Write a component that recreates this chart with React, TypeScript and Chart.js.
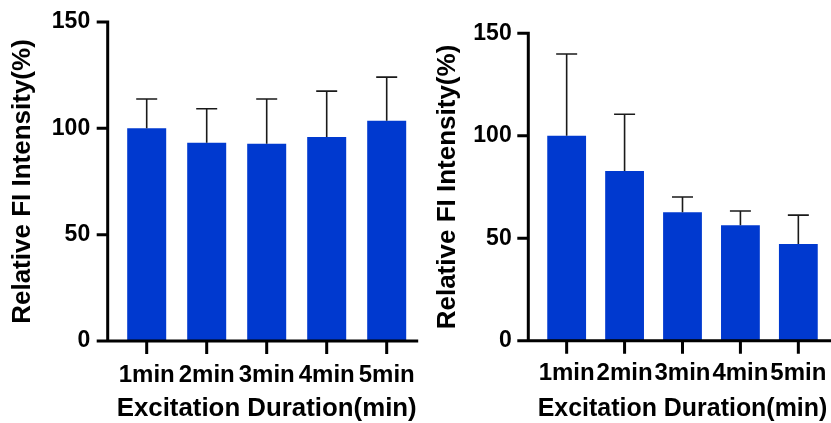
import React, { useEffect, useRef } from "react";
import { Chart, registerables } from "chart.js";

Chart.register(...registerables);

const categories = ["1min", "2min", "3min", "4min", "5min"];
const leftMeans = [100, 93.2, 92.8, 95.9, 103.6];
const leftErrors = [13.8, 16.0, 21.0, 21.6, 20.5];
const rightMeans = [100, 82.8, 62.7, 56.3, 47.2];
const rightErrors = [39.9, 27.7, 7.4, 7.0, 14.1];
const yTicks = [0, 50, 100, 150];
const xTitle = "Excitation Duration(min)";
const yTitle = "Relative FI Intensity(%)";

const FONT = "'Liberation Sans', Arial, Helvetica, sans-serif";
const BAR_COLOR = "#0039CF";

const axesPlugin = {
  id: "gpAxes",
  afterDatasetsDraw(chart: any, _args: any, opts: any) {
    const { ctx, chartArea, scales } = chart;
    const xs = scales.x;
    const ys = scales.y;
    const errs: number[] = opts.errors || [];
    const values: number[] = chart.data.datasets[0].data;
    const meta = chart.getDatasetMeta(0);
    ctx.save();
    // error bars (upper only)
    ctx.strokeStyle = "#1a1a1a";
    ctx.lineWidth = 1.6;
    ctx.lineCap = "butt";
    meta.data.forEach((bar: any, i: number) => {
      const v = values[i];
      const yBase = ys.getPixelForValue(v);
      const yTop = ys.getPixelForValue(v + errs[i]);
      ctx.beginPath();
      ctx.moveTo(bar.x, yBase);
      ctx.lineTo(bar.x, yTop);
      ctx.moveTo(bar.x - opts.capHalf, yTop);
      ctx.lineTo(bar.x + opts.capHalf, yTop);
      ctx.stroke();
    });
    // axes
    const ax = chartArea.left - opts.gap;
    const y0 = ys.getPixelForValue(0);
    const yMax = ys.getPixelForValue(yTicks[yTicks.length - 1]);
    ctx.strokeStyle = "#000";
    ctx.lineWidth = 3;
    ctx.beginPath();
    ctx.moveTo(ax, yMax - 1.5);
    ctx.lineTo(ax, y0);
    ctx.moveTo(ax - opts.tickLen, y0);
    ctx.lineTo(chartArea.right + opts.extend, y0);
    yTicks.forEach((t) => {
      const p = ys.getPixelForValue(t);
      ctx.moveTo(ax - opts.tickLen, p);
      ctx.lineTo(ax, p);
    });
    xs.ticks.forEach((_t: any, i: number) => {
      const p = xs.getPixelForTick(i);
      ctx.moveTo(p, y0);
      ctx.lineTo(p, y0 + 13);
    });
    ctx.stroke();
    ctx.restore();
  },
};

function makeConfig(means: number[], errors: number[], p: any): any {
  return {
    type: "bar",
    data: {
      labels: categories,
      datasets: [
        {
          data: means,
          backgroundColor: BAR_COLOR,
          borderWidth: 0,
          barPercentage: p.barPct,
          categoryPercentage: 1,
        },
      ],
    },
    options: {
      responsive: false,
      animation: false,
      layout: { padding: { top: p.top, right: p.right, left: 0, bottom: 0 } },
      plugins: {
        legend: { display: false },
        tooltip: { enabled: false },
        gpAxes: { errors, capHalf: 10.5, gap: p.gap, tickLen: 11, extend: p.extend },
      },
      scales: {
        x: {
          grid: { display: false, drawTicks: true, tickLength: p.xTickPad },
          border: { display: false },
          ticks: {
            color: "#000",
            font: { family: FONT, size: 24, weight: "bold" },
            padding: 0,
            maxRotation: 0,
            autoSkip: false,
          },
          title: {
            display: true,
            text: xTitle,
            color: "#000",
            font: { family: FONT, size: 26, weight: "bold", lineHeight: 1 },
            padding: { top: 0, bottom: p.xTitlePad },
          },
          afterFit: (s: any) => {
            s.height = p.xHeight;
          },
        },
        y: {
          min: 0,
          max: 150,
          grid: { display: false, drawTicks: true, tickLength: p.yTickPad },
          border: { display: false },
          ticks: {
            stepSize: 50,
            color: "#000",
            font: { family: FONT, size: 23, weight: "bold" },
            padding: 0,
          },
          title: {
            display: true,
            text: yTitle,
            color: "#000",
            font: { family: FONT, size: 26, weight: "bold", lineHeight: 1 },
            padding: { top: p.yTitlePad, bottom: 0 },
          },
          afterFit: (s: any) => {
            s.width = p.yWidth;
          },
        },
      },
    },
    plugins: [axesPlugin],
  };
}

function BarPanel(props: { means: number[]; errors: number[]; p: any; left: number; width: number }) {
  const ref = useRef<HTMLCanvasElement | null>(null);
  useEffect(() => {
    if (!ref.current) return;
    const chart = new Chart(ref.current, makeConfig(props.means, props.errors, props.p));
    return () => chart.destroy();
  }, []);
  return (
    <canvas
      ref={ref}
      width={props.width}
      height={423}
      style={{ position: "absolute", left: props.left, top: 0, width: props.width, height: 423 }}
    />
  );
}

export default function App() {
  const leftP = {
    barPct: 0.65,
    top: 22,
    right: 3.3,
    gap: 9,
    extend: 1.5,
    xTickPad: 19.5,
    xTitlePad: 1,
    xHeight: 82,
    yTickPad: 26.5,
    yTitlePad: 10,
    yWidth: 116.7,
  };
  const rightP = {
    barPct: 0.67,
    top: 33.3,
    right: 3.7,
    gap: 9.4,
    extend: 4,
    xTickPad: 18.5,
    xTitlePad: 1,
    xHeight: 82.3,
    yTickPad: 26,
    yTitlePad: 19.5,
    yWidth: 122.7,
  };
  return (
    <div style={{ position: "fixed", left: 0, top: 0, width: 831, height: 423, background: "#fff", overflow: "hidden" }}>
      <BarPanel means={leftMeans} errors={leftErrors} p={leftP} left={0} width={420} />
      <BarPanel means={rightMeans} errors={rightErrors} p={rightP} left={415} width={416} />
    </div>
  );
}
